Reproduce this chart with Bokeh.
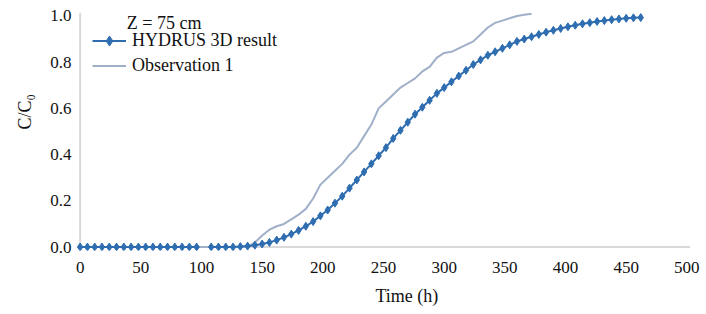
from bokeh.plotting import figure
from bokeh.models import (Range1d, FixedTicker, Span, Legend, LegendItem, Label,
                          NumeralTickFormatter, Title)
from bokeh.embed import file_html
from bokeh.resources import INLINE

nan = float("nan")

# HYDRUS 3D simulated breakthrough curve (time step 6 h, one missing value at 102 h)
hydrus_time = list(range(0, 463, 6))
hydrus_c = (
    [0.0] * 17 + [nan] + [0.0] * 4 +
    [0.002, 0.004, 0.008, 0.013, 0.02, 0.03, 0.042, 0.056, 0.072, 0.09,
     0.11, 0.135, 0.16, 0.19, 0.22, 0.255, 0.29, 0.325, 0.36, 0.395,
     0.43, 0.47, 0.505, 0.54, 0.575, 0.605, 0.635, 0.665, 0.69, 0.715,
     0.74, 0.765, 0.79, 0.81, 0.83, 0.845, 0.86, 0.875, 0.89, 0.90,
     0.91, 0.92, 0.93, 0.938, 0.946, 0.953, 0.96, 0.966, 0.971, 0.976,
     0.98, 0.984, 0.987, 0.99, 0.992, 0.993]
)

# Observation 1
obs_time = [0, 138, 144, 150, 156, 162, 168, 174, 180, 186, 192, 198, 204, 210,
            216, 222, 228, 234, 240, 246, 252, 258, 264, 270, 276, 282, 288,
            294, 300, 306, 312, 318, 324, 330, 336, 342, 348, 354, 360, 366, 372]
obs_c = [0.0, 0.0, 0.02, 0.05, 0.075, 0.09, 0.10, 0.12, 0.14, 0.165, 0.21, 0.27,
         0.30, 0.33, 0.36, 0.40, 0.43, 0.48, 0.53, 0.60, 0.63, 0.66, 0.69, 0.71,
         0.73, 0.76, 0.78, 0.82, 0.84, 0.845, 0.86, 0.875, 0.89, 0.92, 0.95,
         0.97, 0.98, 0.99, 1.0, 1.005, 1.01]

x_ticks = [0, 50, 100, 150, 200, 250, 300, 350, 400, 450, 500]
y_ticks = [0.0, 0.2, 0.4, 0.6, 0.8, 1.0]

FONT = "Liberation Serif"
BLUE = "#2E6DB0"
OBS = "#A0AFC8"
AXIS = "#D9D9D9"
TXT = "#111111"

p = figure(width=706, height=314, output_backend="svg", toolbar_location=None,
           x_range=Range1d(-3, 503), y_range=Range1d(-0.015, 1.015),
           frame_width=614, frame_height=238,
           min_border_left=76, min_border_right=16, min_border_top=12,
           min_border_bottom=64)
p.outline_line_color = None
p.grid.grid_line_color = None
p.background_fill_color = "white"

for ax in (p.xaxis[0], p.yaxis[0]):
    ax.axis_line_color = None
    ax.major_tick_line_color = None
    ax.minor_tick_line_color = None
    ax.major_tick_out = 0
    ax.major_label_text_font = FONT
    ax.major_label_text_font_size = "17px"
    ax.major_label_text_color = TXT

p.xaxis.ticker = FixedTicker(ticks=x_ticks)
p.yaxis.ticker = FixedTicker(ticks=y_ticks)
p.yaxis.formatter = NumeralTickFormatter(format="0.0")
p.xaxis.major_label_standoff = 11
p.yaxis.major_label_standoff = 5

# axis titles, placed off-centre as in the original
x_title = Title(text="Time (h)", align="left", offset=299, standoff=17,
                text_font=FONT, text_font_size="18px", text_font_style="normal",
                text_color=TXT)
y_title = Title(text="C/C\u2080", align="left", offset=121, standoff=25,
                text_font=FONT, text_font_size="18px", text_font_style="normal",
                text_color=TXT)
p.add_layout(x_title, "below")
p.add_layout(y_title, "left")

p.add_layout(Span(location=0, dimension="width", line_color=AXIS, line_width=2,
                  level="underlay"))
p.add_layout(Span(location=0, dimension="height", line_color=AXIS, line_width=2,
                  level="underlay"))

obs_r = p.line(obs_time, obs_c, line_color=OBS, line_width=2)
h_line = p.line(hydrus_time, hydrus_c, line_color=BLUE, line_width=2)
h_pts = p.scatter(hydrus_time, hydrus_c, marker="diamond", size=8,
                  fill_color=BLUE, line_color=BLUE)

legend = Legend(items=[
    LegendItem(label="HYDRUS 3D result", renderers=[h_line, h_pts]),
    LegendItem(label="Observation 1", renderers=[obs_r]),
], location="top_left")
legend.margin = 16
legend.padding = 0
legend.spacing = 0
legend.label_height = 25
legend.glyph_height = 25
legend.glyph_width = 34
legend.label_standoff = 6
legend.label_text_font = FONT
legend.label_text_font_size = "18px"
legend.label_text_color = TXT
legend.border_line_color = None
legend.background_fill_alpha = 0
p.add_layout(legend)

p.add_layout(Label(x=38.5, y=1.013, text="Z = 75 cm", text_font=FONT,
                   text_font_size="18px", text_color=TXT,
                   text_baseline="top"))

open("out.html", "w").write(file_html(p, INLINE))
